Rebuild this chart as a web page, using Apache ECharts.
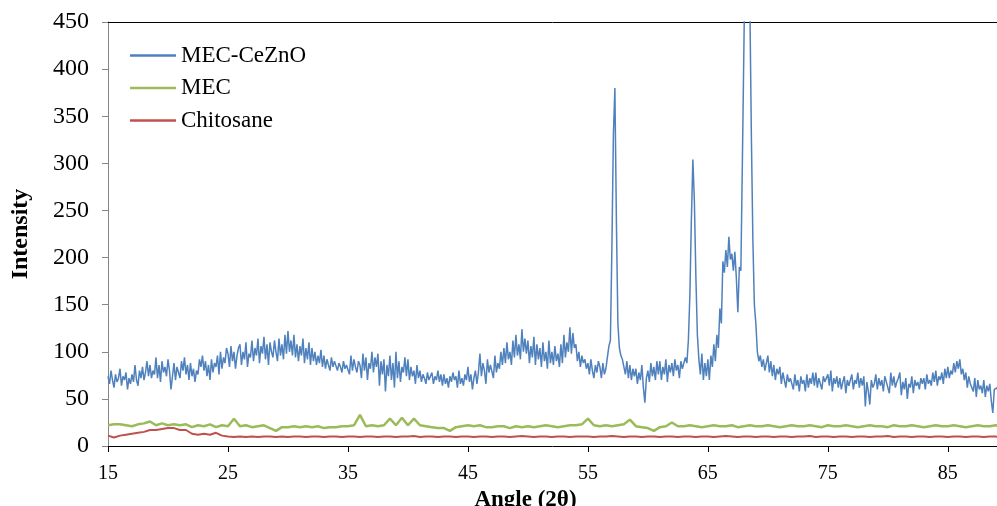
<!DOCTYPE html>
<html>
<head>
<meta charset="utf-8">
<script src="https://cdn.jsdelivr.net/npm/echarts@6/dist/echarts.min.js"></script>
<style>
html,body{margin:0;padding:0;background:#fff;overflow:hidden;}
#c{width:997px;height:506px;}
</style>
</head>
<body>
<div id="c"></div>
<script>
// ---- Data ----
const seriesNames = ['MEC-CeZnO', 'MEC', 'Chitosane'];
const xTicks = [15, 25, 35, 45, 55, 65, 75, 85];
const yTicks = [0, 50, 100, 150, 200, 250, 300, 350, 400, 450];

// MEC-CeZnO, 2θ from 15 in steps of 0.125 (one row per degree)
const blueStart = 15, blueStep = 0.125;
const blueValues = [
  74, 66, 80, 70, 62, 76, 68, 72,
  82, 64, 74, 70, 78, 60, 72, 66,
  76, 68, 86, 70, 64, 80, 72, 84,
  70, 78, 90, 74, 86, 72, 80, 76,
  94, 72, 86, 68, 90, 78, 84, 74,
  92, 80, 60, 74, 88, 70, 84, 78,
  72, 90, 80, 94, 76, 86, 70, 88,
  74, 82, 68, 80, 76, 92, 84, 96,
  80, 90, 74, 86, 70, 92, 78, 88,
  84, 96, 76, 100, 82, 94, 88, 104,
  98, 84, 106, 90, 100, 82, 96, 104,
  108, 86, 100, 92, 110, 84, 98, 94,
  112, 90, 104, 96, 114, 88, 106, 98,
  116, 92, 108, 86, 110, 100, 94, 112,
  100, 90, 114, 96, 108, 92, 118, 98,
  122, 100, 112, 96, 118, 94, 108, 90,
  106, 96, 114, 88, 104, 92, 110, 86,
  104, 90, 100, 86, 96, 88, 102, 84,
  96, 82, 92, 86, 80, 94, 84, 90,
  92, 80, 88, 84, 78, 90, 82, 86,
  88, 76, 96, 80, 92, 84, 78, 90,
  86, 72, 98, 80, 94, 70, 88, 82,
  100, 78, 94, 84, 98, 64, 90, 76,
  92, 58, 86, 74, 96, 70, 88, 62,
  100, 72, 90, 68, 84, 78, 94, 74,
  92, 70, 84, 74, 80, 66, 86, 72,
  80, 68, 76, 72, 66, 78, 70, 74,
  78, 66, 74, 70, 80, 68, 76, 64,
  76, 66, 72, 62, 74, 68, 78, 70,
  74, 62, 80, 66, 72, 64, 76, 70,
  84, 68, 76, 60, 72, 80, 66, 78,
  98, 74, 88, 80, 66, 92, 78, 86,
  84, 72, 96, 78, 88, 82, 100, 86,
  104, 88, 110, 92, 100, 86, 112, 94,
  118, 96, 108, 92, 124, 100, 114, 98,
  112, 88, 106, 94, 116, 86, 108, 92,
  104, 84, 110, 90, 100, 82, 112, 88,
  100, 86, 106, 90, 98, 84, 108, 88,
  118, 94, 110, 100, 126, 98, 120, 104,
  108, 90, 100, 84, 96, 88, 92, 82,
  88, 76, 92, 80, 72, 86, 78, 90,
  84, 72, 88, 76, 82, 94, 106, 112,
  210, 330, 380, 240, 130, 104, 96, 92,
  84, 76, 90, 72, 86, 70, 82, 74,
  82, 66, 78, 70, 86, 62, 46, 72,
  80, 68, 88, 74, 84, 70, 90, 76,
  90, 70, 84, 76, 92, 68, 86, 78,
  88, 74, 92, 80, 86, 72, 90, 82,
  84, 94, 88, 112, 160, 240, 304, 260,
  180, 118, 92, 76, 98, 70, 88, 74,
  92, 70, 96, 84, 108, 90, 118, 104,
  146, 130, 196, 184, 208, 190, 222, 198,
  204, 186, 206, 178, 142, 190, 186, 300,
  420, 540, 600, 560, 470, 330, 220, 150,
  130, 100, 90, 96, 84, 92, 80, 88,
  96, 78, 90, 74, 86, 70, 82, 76,
  84, 66, 78, 70, 62, 76, 68, 72,
  72, 60, 76, 64, 70, 58, 74, 66,
  70, 58, 76, 62, 72, 66, 78, 64,
  78, 62, 72, 66, 60, 74, 68, 70,
  76, 64, 80, 58, 72, 66, 74, 62,
  72, 60, 68, 74, 56, 70, 64, 66,
  76, 60, 70, 66, 78, 62, 72, 64,
  74, 42, 68, 58, 44, 70, 62, 66,
  76, 60, 72, 64, 70, 58, 74, 68,
  70, 56, 78, 64, 74, 62, 68, 72,
  78, 54, 68, 60, 72, 50, 66, 62,
  74, 56, 70, 64, 68, 60, 72, 66,
  72, 60, 76, 66, 70, 64, 78, 68,
  80, 64, 74, 70, 78, 66, 82, 72,
  84, 72, 80, 76, 88, 78, 90, 82,
  92, 76, 82, 70, 78, 62, 74, 66,
  66, 58, 72, 52, 70, 60, 64, 56,
  70, 52, 64, 58, 66, 48, 35, 60,
  58, 62, 54, 60, 52
];

// MEC, 2θ from 15 in steps of 0.5
const greenStart = 15, greenStep = 0.5;
const greenValues = [
  22, 23, 23, 22, 21, 23, 24, 26, 22, 24, 22, 23, 22, 23, 20, 22, 21, 23, 20, 22,
  21, 29, 21, 22, 20, 21, 22, 19, 16, 20, 20, 21, 20, 21, 20, 21, 19, 20, 20, 21,
  21, 22, 33, 21, 22, 21, 22, 29, 22, 30, 22, 29, 22, 21, 20, 19, 19, 16, 20, 21,
  22, 21, 22, 20, 20, 21, 21, 19, 21, 20, 21, 20, 21, 22, 21, 20, 21, 22, 22, 23,
  29, 22, 21, 22, 21, 22, 23, 28, 21, 20, 19, 16, 20, 21, 25, 21, 21, 22, 21, 20,
  21, 22, 21, 21, 22, 20, 21, 22, 21, 21, 22, 21, 20, 21, 22, 21, 21, 22, 21, 20,
  22, 21, 21, 22, 21, 20, 21, 22, 21, 21, 20, 22, 21, 21, 22, 21, 20, 21, 22, 21,
  21, 22, 21, 20, 21, 22, 21, 21, 22, 21
];

// Chitosane, 2θ from 15 in steps of 0.5
const redStart = 15, redStep = 0.5;
const redValues = [
  11, 9, 11, 12, 13, 14, 15, 17, 17, 18, 19, 19, 17, 17, 13, 12, 13, 12, 14, 11,
  10, 9.5, 10, 9.5, 10, 9.5, 10, 10, 9.5, 10, 9.5, 10, 10, 9.5, 10, 10, 9.5, 10, 10, 9.5,
  10, 10, 9.5, 10, 10, 9.5, 10, 10, 9.5, 10, 10, 10.5, 9.5, 10, 10, 9.5, 10, 10, 9.5, 10,
  10, 9.5, 10, 10, 9.5, 10, 10, 9.5, 10, 10.5, 10, 9.5, 10, 10, 9.5, 10, 10, 9.5, 10, 10,
  10, 9.5, 10, 10, 10.5, 10, 9.5, 10, 10, 9.5, 10, 10, 9.5, 10, 10, 9.5, 10, 10, 9.5, 10,
  10, 9.5, 10, 10.5, 10, 9.5, 10, 10, 9.5, 10, 10, 9.5, 10, 10, 9.5, 10, 10, 10.5, 9.5, 10,
  10, 9.5, 10, 10, 9.5, 10, 10, 9.5, 10, 10, 10.5, 9.5, 10, 10, 9.5, 10, 10, 9.5, 10, 10,
  9.5, 10, 10, 9.5, 10, 10, 9.5, 10, 10, 9.5
];

function toPairs(start, step, vals) {
  return vals.map((v, i) => [+(start + i * step).toFixed(3), v]);
}

const colors = ['#4F81BD', '#9BBB59', '#C0504D'];
const serif = '"Liberation Serif", "Times New Roman", serif';

const chart = echarts.init(document.getElementById('c'), null, {renderer: 'canvas'});
chart.setOption({
  backgroundColor: '#ffffff',
  animation: false,
  textStyle: {fontFamily: serif, color: '#000'},
  grid: {left: 108, top: 22, right: 0, bottom: 60, containLabel: false, outerBoundsMode: 'none'},
  legend: {
    orient: 'vertical',
    left: 130,
    top: 43,
    padding: 0,
    icon: 'rect',
    itemWidth: 46,
    itemHeight: 2.5,
    itemGap: 7.5,
    data: seriesNames,
    textStyle: {fontFamily: serif, fontSize: 23, color: '#000', lineHeight: 25}
  },
  xAxis: [{
    type: 'value',
    min: 15,
    max: 89.1,
    name: 'Angle (2θ)',
    nameLocation: 'middle',
    nameGap: 40,
    nameTextStyle: {fontFamily: serif, fontSize: 23, fontWeight: 'bold', color: '#000', padding: [0, 54, 0, 0]},
    axisLine: {show: true, onZero: false, lineStyle: {color: '#000', width: 1}},
    axisTick: {show: true, inside: false, length: 6, lineStyle: {color: '#000'}, customValues: xTicks},
    axisLabel: {fontFamily: serif, fontSize: 20, color: '#000', margin: 18, customValues: xTicks},
    splitLine: {show: false}
  }, {
    type: 'value',
    position: 'top',
    min: 15,
    max: 89.1,
    axisLine: {show: true, onZero: false, lineStyle: {color: '#000', width: 1}},
    axisTick: {show: false},
    axisLabel: {show: false},
    splitLine: {show: false}
  }],
  yAxis: {
    type: 'value',
    min: 0,
    max: 450,
    name: 'Intensity',
    nameLocation: 'middle',
    nameGap: 75,
    nameTextStyle: {fontFamily: serif, fontSize: 24, fontWeight: 'bold', color: '#000'},
    axisLine: {show: true, lineStyle: {color: '#868686', width: 1}},
    axisTick: {show: true, inside: false, length: 6, lineStyle: {color: '#868686'}, customValues: yTicks},
    axisLabel: {fontFamily: serif, fontSize: 24, color: '#000', margin: 19, customValues: yTicks},
    splitLine: {show: false}
  },
  series: [
    {
      name: seriesNames[0], type: 'line', data: toPairs(blueStart, blueStep, blueValues),
      symbol: 'none', clip: true, z: 3,
      lineStyle: {color: colors[0], width: 1.5}, itemStyle: {color: colors[0]}
    },
    {
      name: seriesNames[1], type: 'line', data: toPairs(greenStart, greenStep, greenValues),
      symbol: 'none', clip: true, z: 2,
      lineStyle: {color: colors[1], width: 2.5}, itemStyle: {color: colors[1]}
    },
    {
      name: seriesNames[2], type: 'line', data: toPairs(redStart, redStep, redValues),
      symbol: 'none', clip: true, z: 2,
      lineStyle: {color: colors[2], width: 2}, itemStyle: {color: colors[2]}
    }
  ]
});
</script>
</body>
</html>
